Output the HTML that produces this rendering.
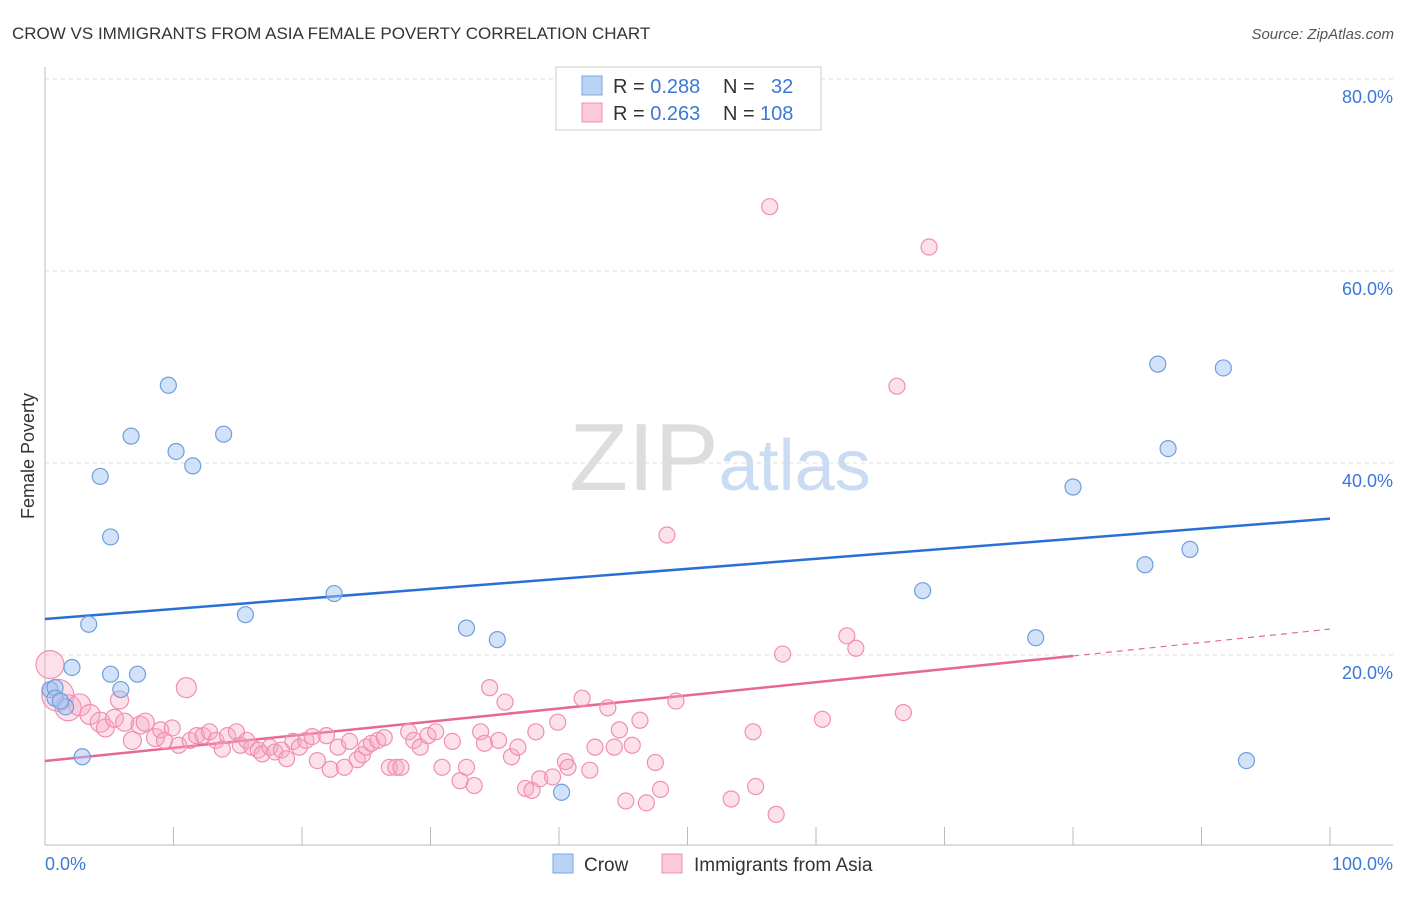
<!DOCTYPE html>
<html><head><meta charset="utf-8"><style>
body{margin:0;background:#fff;font-family:"Liberation Sans",sans-serif}
svg text{font-family:"Liberation Sans",sans-serif}
</style></head><body>
<svg id="chart" width="1406" height="892" viewBox="0 0 1406 892">
<text x="12" y="39" font-size="17" fill="#333">CROW VS IMMIGRANTS FROM ASIA FEMALE POVERTY CORRELATION CHART</text>
<text x="1394" y="39" font-size="15" fill="#555" text-anchor="end" font-style="italic">Source: ZipAtlas.com</text>
<text x="720" y="490" font-size="96" text-anchor="middle" fill="#ddd" font-family="Liberation Serif">ZIP<tspan fill="#c9dcf3" font-family="Liberation Sans" font-size="72">atlas</tspan></text>
<g id="grid"></g>
<g id="axes"></g>
<text transform="translate(34,456) rotate(-90)" font-size="18" fill="#333" text-anchor="middle">Female Poverty</text>
<text x="45" y="870" font-size="18" fill="#3b78d8">0.0%</text>
<text x="1393" y="870" font-size="18" fill="#3b78d8" text-anchor="end">100.0%</text>
<g id="lines"></g>
<g id="points"></g>
<g>
<rect x="556" y="67" width="265" height="63" fill="#fff" stroke="#ccc"/>
<rect x="582" y="76" width="20" height="19" fill="#b9d3f5" stroke="#7aa7e0"/>
<rect x="582" y="103" width="20" height="19" fill="#fcc9da" stroke="#f08fb0"/>
<text x="613" y="93" font-size="20" fill="#333">R = <tspan fill="#3b78d8">0.288</tspan><tspan x="723">N = </tspan><tspan x="771" fill="#3b78d8">32</tspan></text>
<text x="613" y="120" font-size="20" fill="#333">R = <tspan fill="#3b78d8">0.263</tspan><tspan x="723">N = </tspan><tspan x="760" fill="#3b78d8">108</tspan></text>
</g>
<g>
<rect x="553" y="854" width="20" height="19" fill="#b9d3f5" stroke="#7aa7e0"/>
<text x="584" y="871" font-size="19" fill="#333">Crow</text>
<rect x="662" y="854" width="20" height="19" fill="#fcc9da" stroke="#f08fb0"/>
<text x="694" y="871" font-size="19" fill="#333">Immigrants from Asia</text>
</g>
</svg>
<script>
const yTicks=[20,40,60,80];
const crowX=[0.39,0.78,2.1,3.4,4.3,5.1,5.1,5.9,6.7,7.2,9.6,10.2,11.5,13.9,15.6,22.5,32.8,35.2,40.2,68.3,77.1,80.0,85.6,86.6,87.4,89.1,91.7,93.5,2.9,0.78,1.6,1.2];
const crowY=[16.4,16.6,18.7,23.2,38.6,32.3,18.0,16.4,42.8,18.0,48.1,41.2,39.7,43.0,24.2,26.4,22.8,21.6,5.7,26.7,21.8,37.5,29.4,50.3,41.5,31.0,49.9,9.0,9.4,15.5,14.6,15.2];
const asiaX=[0.39,1.0,1.8,2.7,3.5,4.3,4.7,5.4,5.8,6.2,6.8,7.4,7.8,8.6,9.0,9.3,9.9,10.4,11.0,11.3,11.8,12.3,12.8,13.3,13.8,14.2,14.9,15.2,15.7,16.1,16.6,16.9,17.5,17.9,18.4,18.8,19.3,19.8,20.3,20.8,21.2,21.9,22.2,22.8,23.3,23.7,24.3,24.7,25.0,25.4,25.9,26.4,26.8,27.3,27.7,28.3,28.7,29.2,29.8,30.4,30.9,31.7,32.3,32.8,33.4,33.9,34.2,34.6,35.3,35.8,36.3,36.8,37.4,37.9,38.2,38.5,39.5,39.9,40.5,40.7,41.8,42.4,42.8,43.8,44.3,44.7,45.2,45.7,46.3,46.8,47.5,47.9,48.4,49.1,53.4,55.1,55.3,56.4,56.9,57.4,60.5,62.4,63.1,66.3,66.8,68.8];
const asiaY=[19.0,15.8,14.5,14.8,13.8,13.0,12.4,13.4,15.3,13.0,11.1,12.7,13.0,11.4,12.2,11.1,12.4,10.6,16.6,11.1,11.6,11.6,12.0,11.1,10.2,11.6,12.0,10.6,11.1,10.4,10.1,9.7,10.4,9.9,10.1,9.2,11.0,10.4,11.1,11.5,9.0,11.6,8.1,10.4,8.3,11.0,9.1,9.6,10.4,10.8,11.1,11.4,8.3,8.3,8.3,12.0,11.1,10.4,11.6,12.0,8.3,11.0,6.9,8.3,6.4,12.0,10.8,16.6,11.1,15.1,9.4,10.4,6.1,5.9,12.0,7.1,7.3,13.0,8.9,8.3,15.5,8.0,10.4,14.5,10.4,12.2,4.8,10.6,13.2,4.6,8.8,6.0,32.5,15.2,5.0,12.0,6.3,66.7,3.4,20.1,13.3,22.0,20.7,48.0,14.0,62.5];
const asiaR=[14,16,13,11,10,10,9,9,9,9,9,9,9,9,8,8,8,8,10,8,8,8,8,8,8,8,8,8,8,8,8,8,8,8,8,8,8,8,8,8,8,8,8,8,8,8,8,8,8,8,8,8,8,8,8,8,8,8,8,8,8,8,8,8,8,8,8,8,8,8,8,8,8,8,8,8,8,8,8,8,8,8,8,8,8,8,8,8,8,8,8,8,8,8,8,8,8,8,8,8,8,8,8,8,8,8];
const crowLine=[[0,23.75],[100,34.2]];
const asiaLine=[[0,8.96],[80,19.9]];
const asiaDash=[[80,19.9],[100,22.7]];
const X=v=>45+v*12.85, Y=v=>847-v*9.6;
const NS="http://www.w3.org/2000/svg";
function mk(tag,attrs,parent){const e=document.createElementNS(NS,tag);for(const k in attrs)e.setAttribute(k,attrs[k]);document.getElementById(parent).appendChild(e);return e;}
yTicks.forEach(t=>{
 const l=mk('line',{x1:45,x2:1393,y1:Y(t),y2:Y(t),stroke:'#ddd','stroke-dasharray':'4,4'},'grid');
 
 
 const tx=mk('text',{x:1393,y:Y(t)+24,'font-size':18,fill:'#3b78d8','text-anchor':'end'},'grid');
 tx.textContent=t.toFixed(1)+'%';
 
 
});
const ya=mk('line',{x1:45,x2:45,y1:67,y2:845,stroke:'#bbb'},'axes');


const xa=mk('line',{x1:45,x2:1393,y1:845,y2:845,stroke:'#bbb'},'axes');


for(let i=0;i<=10;i++){const t=mk('line',{x1:X(i*10),x2:X(i*10),y1:827,y2:845,stroke:'#bbb'},'axes');
 
 }
function ln(p,col,extra,name){const l=mk('line',Object.assign({x1:X(p[0][0]),y1:Y(p[0][1]),x2:X(p[1][0]),y2:Y(p[1][1]),stroke:col,'stroke-width':2.5},extra),'lines');
 
 }
ln(crowLine,'#2a6fd6',{},'crow-trendline');
ln(asiaLine,'#e8679a',{},'asia-trendline');
ln(asiaDash,'#e8679a',{'stroke-dasharray':'6,5','stroke-width':1.2},'asia-trendline-extension');
asiaX.forEach((x,i)=>{const c=mk('circle',{cx:X(x),cy:Y(asiaY[i]),r:asiaR[i],fill:'rgba(247,170,198,0.35)',stroke:'#f08fb0','stroke-width':1.2},'points');
 
 });
crowX.forEach((x,i)=>{const c=mk('circle',{cx:X(x),cy:Y(crowY[i]),r:8,fill:'rgba(165,198,242,0.5)',stroke:'#6f9fdc','stroke-width':1.2},'points');
 
 });
</script>
</body></html>
